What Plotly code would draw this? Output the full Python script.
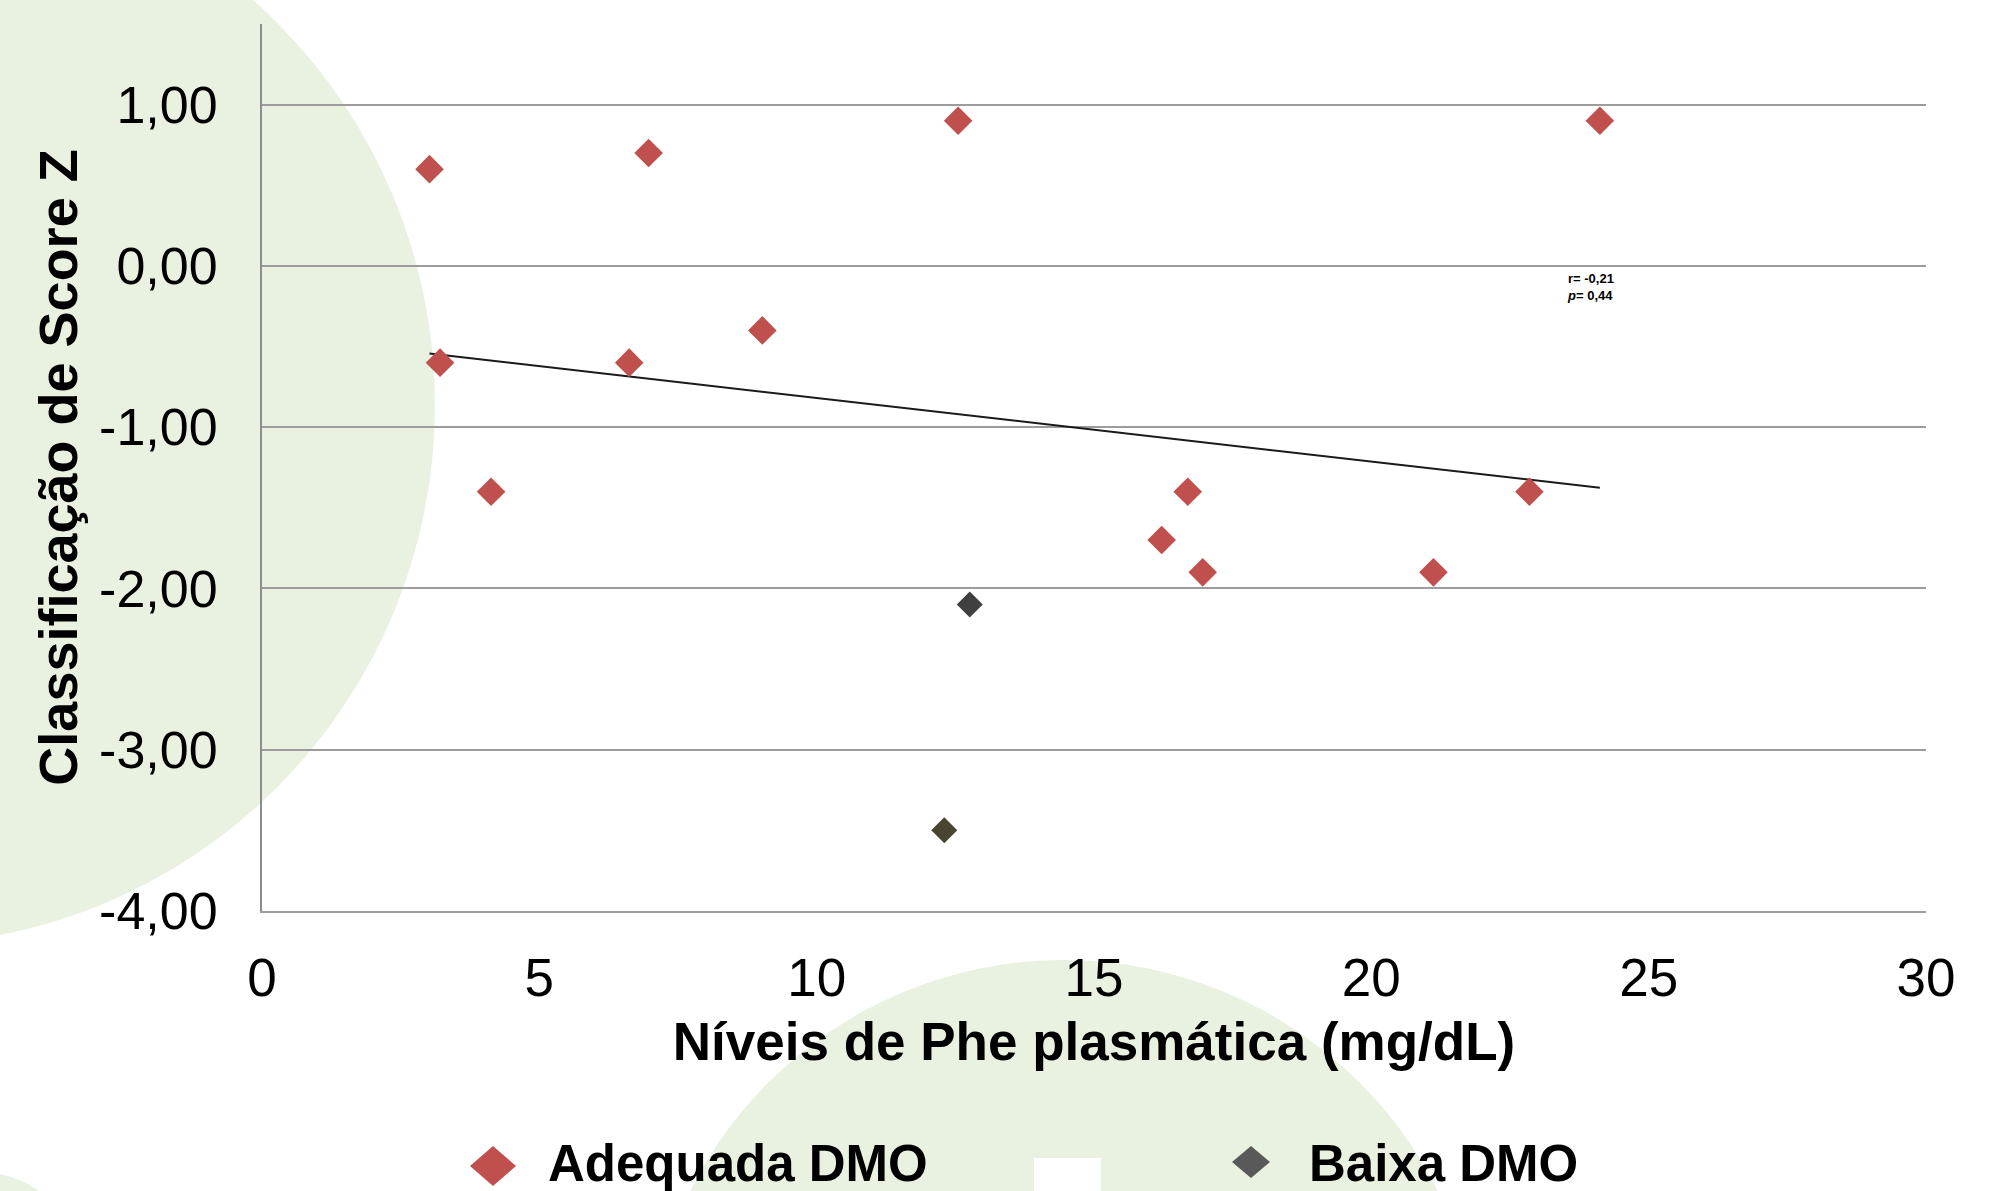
import numpy as np
import plotly.graph_objects as go

# ---------------- data ----------------
phe_adequada = [3.02, 3.21, 4.13, 6.62, 6.97, 9.02, 12.55, 16.22, 16.69, 16.96, 21.12, 22.85, 24.12]
z_adequada = [0.60, -0.60, -1.40, -0.60, 0.70, -0.40, 0.90, -1.70, -1.40, -1.90, -1.90, -1.40, 0.90]
phe_baixa = [12.76, 12.30]
z_baixa = [-2.10, -3.50]
baixa_point_colors = ["#404040", "#4a4530"]

series_names = ["Adequada DMO", "Baixa DMO"]
x_tick_vals = [0, 5, 10, 15, 20, 25, 30]
x_tick_text = ["0", "5", "10", "15", "20", "25", "30"]
y_tick_vals = [1, 0, -1, -2, -3, -4]
y_tick_text = ["1,00", "0,00", "-1,00", "-2,00", "-3,00", "-4,00"]
stats_r = "-0,21"
stats_p = "0,44"

x_title = "Níveis de Phe plasmática (mg/dL)"
y_title = "Classificação de Score Z"

# ---------------- layout geometry ----------------
W, H = 2007, 1191
ML, MR, MT, MB = 262, 81, 24, 280
PW, PH = W - ML - MR, H - MT - MB


def px(x):
    return (x - ML) / PW


def py(y):
    return (H - MB - y) / PH


FONT = "Liberation Sans, Arial, sans-serif"
RED = "#c0504d"
GREEN_BG = "#e9f2e1"
GRID = "#9c9c9c"

# ---------------- trend line (all points) ----------------
all_x = np.array(phe_adequada + phe_baixa)
all_y = np.array(z_adequada + z_baixa)
slope, intercept = np.polyfit(all_x, all_y, 1)
trend_x = np.array([all_x.min(), all_x.max()])
trend_y = slope * trend_x + intercept

fig = go.Figure()

fig.add_trace(go.Scatter(
    x=trend_x, y=trend_y, mode="lines",
    line=dict(color="#1a1a1a", width=2),
    showlegend=False, hoverinfo="skip",
))
fig.add_trace(go.Scatter(
    x=phe_adequada, y=z_adequada, mode="markers", name=series_names[0],
    marker=dict(symbol="diamond", size=22, color=RED, line=dict(width=0)),
    showlegend=False,
))
fig.add_trace(go.Scatter(
    x=phe_baixa, y=z_baixa, mode="markers", name=series_names[1],
    marker=dict(symbol="diamond", size=20, color=baixa_point_colors, line=dict(width=0)),
    showlegend=False,
))

# ---------------- background decoration ----------------
shapes = [
    dict(type="circle", xref="paper", yref="paper", layer="below",
         x0=px(-640), x1=px(435), y0=py(945), y1=py(-135),
         fillcolor=GREEN_BG, line=dict(width=0)),
    dict(type="circle", xref="paper", yref="paper", layer="below",
         x0=px(646), x1=px(1482), y0=py(1796), y1=py(960),
         fillcolor=GREEN_BG, line=dict(width=0)),
    dict(type="circle", xref="paper", yref="paper", layer="below",
         x0=px(-120), x1=px(80), y0=py(1370), y1=py(1172),
         fillcolor=GREEN_BG, line=dict(width=0)),
    # white box between legend entries
    dict(type="rect", xref="paper", yref="paper", layer="above",
         x0=px(1034), x1=px(1101), y0=py(1195), y1=py(1158),
         fillcolor="white", line=dict(width=0)),
]


def diamond_path(cx, cy, hw, hh):
    return (f"M {px(cx - hw)},{py(cy)} L {px(cx)},{py(cy - hh)} "
            f"L {px(cx + hw)},{py(cy)} L {px(cx)},{py(cy + hh)} Z")


# custom legend symbols
shapes.append(dict(type="path", xref="paper", yref="paper", layer="above",
                   path=diamond_path(493, 1166, 23, 20), fillcolor=RED, line=dict(width=0)))
shapes.append(dict(type="path", xref="paper", yref="paper", layer="above",
                   path=diamond_path(1251, 1162, 19, 16), fillcolor="#595959", line=dict(width=0)))

annotations = [
    dict(xref="paper", yref="paper", x=px(546), y=py(1163), xanchor="left", yanchor="middle",
         text=f"<b>{series_names[0]}</b>", showarrow=False,
         font=dict(family=FONT, size=51, color="black")),
    dict(xref="paper", yref="paper", x=px(1307), y=py(1163), xanchor="left", yanchor="middle",
         text=f"<b>{series_names[1]}</b>", showarrow=False,
         font=dict(family=FONT, size=51, color="black")),
    dict(xref="x", yref="y", x=23.5, y=-0.02, xanchor="left", yanchor="top", align="left",
         text=f"<b>r= {stats_r}</b><br><b><i>p</i>= {stats_p}</b>", showarrow=False,
         font=dict(family=FONT, size=13, color="black")),
]

fig.update_layout(
    width=W, height=H,
    margin=dict(l=ML, r=MR, t=MT, b=MB, pad=0),
    paper_bgcolor="white",
    plot_bgcolor="rgba(0,0,0,0)",
    font=dict(family=FONT, color="black"),
    showlegend=False,
    shapes=shapes,
    annotations=annotations,
    xaxis=dict(
        range=[0, 30], tickvals=x_tick_vals, ticktext=x_tick_text,
        showgrid=False, zeroline=False,
        showline=True, linecolor=GRID, linewidth=2,
        ticks="", ticklabelstandoff=19,
        tickfont=dict(family=FONT, size=53, color="black"),
        title=dict(text=f"<b>{x_title}</b>", standoff=17,
                   font=dict(family=FONT, size=53, color="black")),
    ),
    yaxis=dict(
        range=[-4, 1.5], tickvals=y_tick_vals, ticktext=y_tick_text,
        showgrid=True, gridcolor=GRID, gridwidth=2, zeroline=False,
        showline=True, linecolor="#8c8c8c", linewidth=2,
        ticks="", ticklabelstandoff=32,
        tickfont=dict(family=FONT, size=52, color="black"),
        title=dict(text=f"<b>{y_title}</b>", standoff=4,
                   font=dict(family=FONT, size=54, color="black")),
    ),
)

fig.write_html("out.html", config={"displayModeBar": False},
               post_script="document.body.style.margin='0px';")
